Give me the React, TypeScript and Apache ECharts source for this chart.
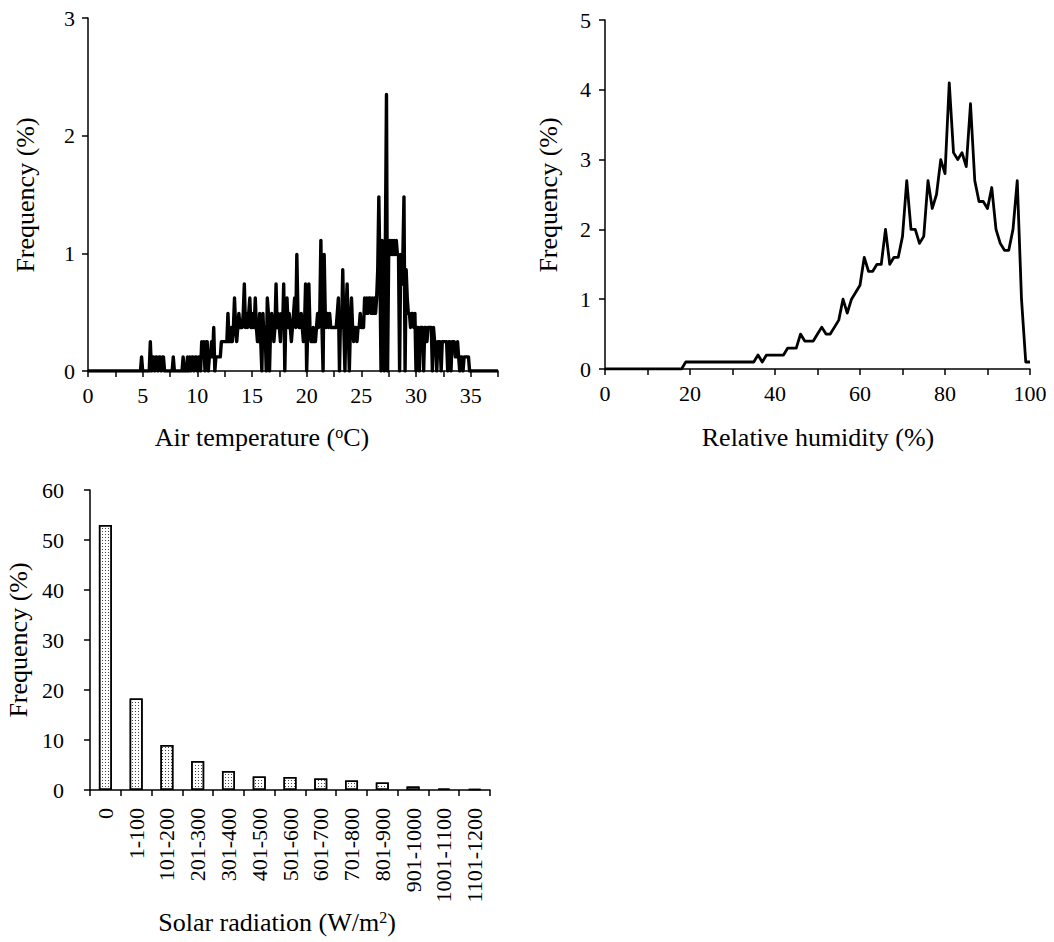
import React, { useEffect, useRef } from "react";
import * as echarts from "echarts";

const FONT = "Liberation Serif";

// Air temperature (°C) vs frequency (%)
const airTemp: [number, number][] = [
  [0, 0], [4.8, 0], [4.9, 0.12], [5.0, 0], [5.6, 0], [5.7, 0.25], [5.8, 0], [5.9, 0.12], [6.0, 0.12], [6.1, 0],
  [6.2, 0.12], [6.3, 0.12], [6.4, 0], [6.5, 0.12], [6.6, 0.12], [6.7, 0], [6.8, 0.12], [6.9, 0.12], [7.0, 0],
  [7.7, 0], [7.8, 0.12], [7.9, 0], [8.6, 0], [8.7, 0.12], [8.8, 0], [9.0, 0], [9.1, 0.12], [9.2, 0], [9.3, 0.12],
  [9.4, 0], [9.5, 0.12], [9.6, 0.12], [9.7, 0], [9.8, 0.12], [9.9, 0.12], [10.0, 0], [10.1, 0.12], [10.2, 0.12],
  [10.3, 0], [10.4, 0.25], [10.5, 0.12], [10.6, 0.25], [10.7, 0], [10.8, 0.25], [10.9, 0.25], [11.0, 0],
  [11.1, 0.12], [11.2, 0.12], [11.3, 0.25], [11.4, 0.12], [11.5, 0.37], [11.6, 0], [11.7, 0.12], [11.8, 0.12],
  [11.9, 0.12], [12.0, 0.12], [12.1, 0.12], [12.2, 0.25], [12.3, 0.25], [12.4, 0.25], [12.5, 0.25], [12.6, 0.25],
  [12.7, 0.25], [12.8, 0.49], [12.9, 0.25], [13.0, 0.25], [13.1, 0.37], [13.2, 0.25], [13.3, 0.37], [13.4, 0.62],
  [13.5, 0.37], [13.6, 0.25], [13.7, 0.37], [13.8, 0.49], [13.9, 0.37], [14.0, 0.37], [14.1, 0.37], [14.2, 0.49],
  [14.3, 0.74], [14.4, 0.37], [14.5, 0.49], [14.6, 0.37], [14.7, 0.49], [14.8, 0.62], [14.9, 0.37], [15.0, 0.37],
  [15.1, 0.49], [15.2, 0.37], [15.3, 0.62], [15.4, 0.37], [15.5, 0.25], [15.6, 0.25], [15.7, 0.49], [15.8, 0.25],
  [15.9, 0], [16.0, 0.49], [16.1, 0.25], [16.2, 0.37], [16.3, 0], [16.4, 0.62], [16.5, 0.49], [16.6, 0],
  [16.7, 0.37], [16.8, 0.49], [16.9, 0.37], [17.0, 0.25], [17.1, 0.37], [17.2, 0.74], [17.3, 0.37], [17.4, 0.49],
  [17.5, 0.37], [17.6, 0.25], [17.7, 0.49], [17.8, 0.37], [17.9, 0.74], [18.0, 0], [18.1, 0.49], [18.2, 0.62],
  [18.3, 0.37], [18.4, 0.49], [18.5, 0.37], [18.6, 0.25], [18.7, 0.37], [18.8, 0.49], [18.9, 0.62], [19.0, 0.37],
  [19.1, 0.99], [19.2, 0.49], [19.3, 0.37], [19.4, 0.37], [19.5, 0.49], [19.6, 0.37], [19.7, 0.25], [19.8, 0.37],
  [19.9, 0.74], [20.0, 0], [20.1, 0.37], [20.2, 0.74], [20.3, 0.37], [20.4, 0.25], [20.5, 0.25], [20.6, 0.37],
  [20.7, 0.25], [20.8, 0.25], [20.9, 0.37], [21.0, 0.49], [21.1, 0.37], [21.2, 0.49], [21.3, 1.11], [21.4, 0.37],
  [21.5, 0], [21.6, 0.99], [21.7, 0.49], [21.8, 0.37], [21.9, 0.49], [22.0, 0.37], [22.1, 0.49], [22.2, 0.37],
  [22.3, 0.37], [22.4, 0.37], [22.5, 0.37], [22.6, 0.37], [22.7, 0.37], [22.8, 0.49], [22.9, 0.62], [23.0, 0],
  [23.1, 0.49], [23.2, 0.37], [23.3, 0.86], [23.4, 0.37], [23.5, 0], [23.6, 0.49], [23.7, 0.74], [23.8, 0.37],
  [23.9, 0], [24.0, 0.37], [24.1, 0.62], [24.2, 0.37], [24.3, 0.25], [24.4, 0.37], [24.5, 0.37], [24.6, 0.25],
  [24.7, 0.37], [24.8, 0.37], [24.9, 0.49], [25.0, 0.37], [25.1, 0.37], [25.2, 0.37], [25.3, 0.62], [25.4, 0.49],
  [25.5, 0.62], [25.6, 0.49], [25.7, 0.62], [25.8, 0.62], [25.9, 0.49], [26.0, 0.62], [26.1, 0.49], [26.2, 0.62],
  [26.3, 0.49], [26.4, 0.62], [26.5, 0.86], [26.6, 1.48], [26.7, 0.86], [26.8, 0], [26.9, 1.11], [27.0, 0.99],
  [27.1, 0], [27.2, 1.11], [27.3, 2.35], [27.4, 0], [27.5, 0.99], [27.6, 1.11], [27.7, 0.99], [27.8, 1.11],
  [27.9, 0.99], [28.0, 1.11], [28.1, 0.99], [28.2, 1.11], [28.3, 0.99], [28.4, 0.99], [28.5, 0], [28.6, 0.99],
  [28.7, 0.74], [28.8, 0.99], [28.9, 1.48], [29.0, 0], [29.1, 0.86], [29.2, 0.62], [29.3, 0.49], [29.4, 0.49],
  [29.5, 0.37], [29.6, 0.49], [29.7, 0.49], [29.8, 0.37], [29.9, 0.49], [30.0, 0], [30.1, 0.37], [30.2, 0.37],
  [30.3, 0], [30.4, 0.37], [30.5, 0.37], [30.6, 0.37], [30.7, 0], [30.8, 0.37], [30.9, 0.37], [31.0, 0.25],
  [31.1, 0.37], [31.2, 0.37], [31.3, 0.37], [31.4, 0.37], [31.5, 0], [31.6, 0.37], [31.7, 0.25], [31.8, 0.25],
  [31.9, 0], [32.0, 0.25], [32.1, 0.25], [32.2, 0.25], [32.3, 0], [32.4, 0.25], [32.5, 0.25], [32.6, 0.25],
  [32.7, 0.25], [32.8, 0.25], [32.9, 0], [33.0, 0.25], [33.1, 0.25], [33.2, 0], [33.3, 0.25], [33.4, 0.25],
  [33.5, 0.25], [33.6, 0.12], [33.7, 0.12], [33.8, 0.25], [33.9, 0.12], [34.0, 0], [34.1, 0.12], [34.2, 0.12],
  [34.3, 0], [34.4, 0.12], [34.5, 0.12], [34.6, 0.12], [34.7, 0.12], [34.8, 0.12], [34.9, 0], [37.5, 0],
];

// Relative humidity (%) 0..100 vs frequency (%)
const humidityValues: number[] = [
  0, 0, 0, 0, 0, 0, 0, 0, 0, 0,
  0, 0, 0, 0, 0, 0, 0, 0, 0, 0.1,
  0.1, 0.1, 0.1, 0.1, 0.1, 0.1, 0.1, 0.1, 0.1, 0.1,
  0.1, 0.1, 0.1, 0.1, 0.1, 0.1, 0.2, 0.1, 0.2, 0.2,
  0.2, 0.2, 0.2, 0.3, 0.3, 0.3, 0.5, 0.4, 0.4, 0.4,
  0.5, 0.6, 0.5, 0.5, 0.6, 0.7, 1.0, 0.8, 1.0, 1.1,
  1.2, 1.6, 1.4, 1.4, 1.5, 1.5, 2.0, 1.5, 1.6, 1.6,
  1.9, 2.7, 2.0, 2.0, 1.8, 1.9, 2.7, 2.3, 2.5, 3.0,
  2.8, 4.1, 3.1, 3.0, 3.1, 2.9, 3.8, 2.7, 2.4, 2.4,
  2.3, 2.6, 2.0, 1.8, 1.7, 1.7, 2.0, 2.7, 1.0, 0.1,
  0.1,
];

const solarCategories = [
  "0", "1-100", "101-200", "201-300", "301-400", "401-500", "501-600",
  "601-700", "701-800", "801-900", "901-1000", "1001-1100", "1101-1200",
];
const solarValues = [53, 18.3, 9, 5.8, 3.8, 2.7, 2.6, 2.3, 1.9, 1.5, 0.7, 0.3, 0.2];

const axisLine = { show: true, onZero: false, lineStyle: { color: "#000", width: 1.5 } };
const axisTick = { show: true, length: 6, lineStyle: { color: "#000", width: 1.5 } };
const labelBase = { color: "#000", fontFamily: FONT, fontSize: 22 };

const nameText = (x: number, y: number, text: string, rotate = false) => ({
  type: "text",
  x,
  y,
  rotation: rotate ? Math.PI / 2 : 0,
  style: {
    text,
    fill: "#000",
    fontFamily: FONT,
    fontSize: 26,
    align: "center",
    verticalAlign: "middle",
    rich: {
      sup: { fontFamily: FONT, fontSize: 16, fill: "#000", verticalAlign: "top" },
    },
  },
});

export default function App() {
  const ref = useRef<HTMLDivElement>(null);
  useEffect(() => {
    document.body.style.margin = "0";
    const chart = echarts.init(ref.current!, null, { renderer: "svg" });
    const humidityData = humidityValues.map((v, i) => [i, v]);
    chart.setOption({
      animation: false,
      backgroundColor: "#fff",
      grid: [
        { left: 88, top: 18, width: 410, height: 353 },
        { left: 605, top: 20, width: 425, height: 349 },
        { left: 90, top: 490, width: 400, height: 300 },
      ],
      xAxis: [
        {
          gridIndex: 0, type: "value", min: 0, max: 37.5, interval: 2.5,
          axisLine, axisTick, splitLine: { show: false },
          axisLabel: { ...labelBase, margin: 13, formatter: (v: number) => (v % 5 === 0 && v <= 35 ? String(v) : "") },
        },
        {
          gridIndex: 1, type: "value", min: 0, max: 100, interval: 10,
          axisLine, axisTick, splitLine: { show: false },
          axisLabel: { ...labelBase, margin: 13, formatter: (v: number) => (v % 20 === 0 ? String(v) : "") },
        },
        {
          gridIndex: 2, type: "category", data: solarCategories,
          axisLine, axisTick: { ...axisTick, alignWithLabel: false, interval: 0 },
          axisLabel: { ...labelBase, margin: 18, rotate: 90, interval: 0 },
        },
      ],
      yAxis: [
        {
          gridIndex: 0, type: "value", min: 0, max: 3, interval: 1,
          axisLine, axisTick, splitLine: { show: false },
          axisLabel: { ...labelBase, margin: 13 },
        },
        {
          gridIndex: 1, type: "value", min: 0, max: 5, interval: 1,
          axisLine, axisTick, splitLine: { show: false },
          axisLabel: { ...labelBase, margin: 14 },
        },
        {
          gridIndex: 2, type: "value", min: 0, max: 60, interval: 10,
          axisLine, axisTick, splitLine: { show: false },
          axisLabel: { ...labelBase, margin: 26 },
        },
      ],
      series: [
        {
          type: "line", xAxisIndex: 0, yAxisIndex: 0, data: airTemp,
          showSymbol: false, lineStyle: { color: "#000", width: 3.4, join: "round" },
          itemStyle: { color: "#000" },
        },
        {
          type: "line", xAxisIndex: 1, yAxisIndex: 1, data: humidityData,
          showSymbol: false, lineStyle: { color: "#000", width: 2.8, join: "round" },
          itemStyle: { color: "#000" },
        },
        {
          type: "bar", xAxisIndex: 2, yAxisIndex: 2, data: solarValues, barWidth: 13,
          itemStyle: {
            color: "#fff", borderColor: "#000", borderWidth: 1.5,
            decal: {
              symbol: "rect", symbolSize: 1, color: "#444", backgroundColor: "#fff",
              dashArrayX: [1, 2], dashArrayY: [1, 2], rotation: 0,
            },
          },
        },
      ],
      graphic: [
        nameText(25, 195, "Frequency (%)", true),
        nameText(548, 195, "Frequency (%)", true),
        nameText(18, 640, "Frequency (%)", true),
        nameText(262, 437, "Air temperature ({sup|o}C)"),
        nameText(818, 437, "Relative humidity (%)"),
        nameText(277, 922, "Solar radiation (W/m{sup|2})"),
      ],
    });
    return () => chart.dispose();
  }, []);
  return (
    <div
      ref={ref}
      style={{ position: "absolute", left: 0, top: 0, width: 1054, height: 942 }}
    />
  );
}
